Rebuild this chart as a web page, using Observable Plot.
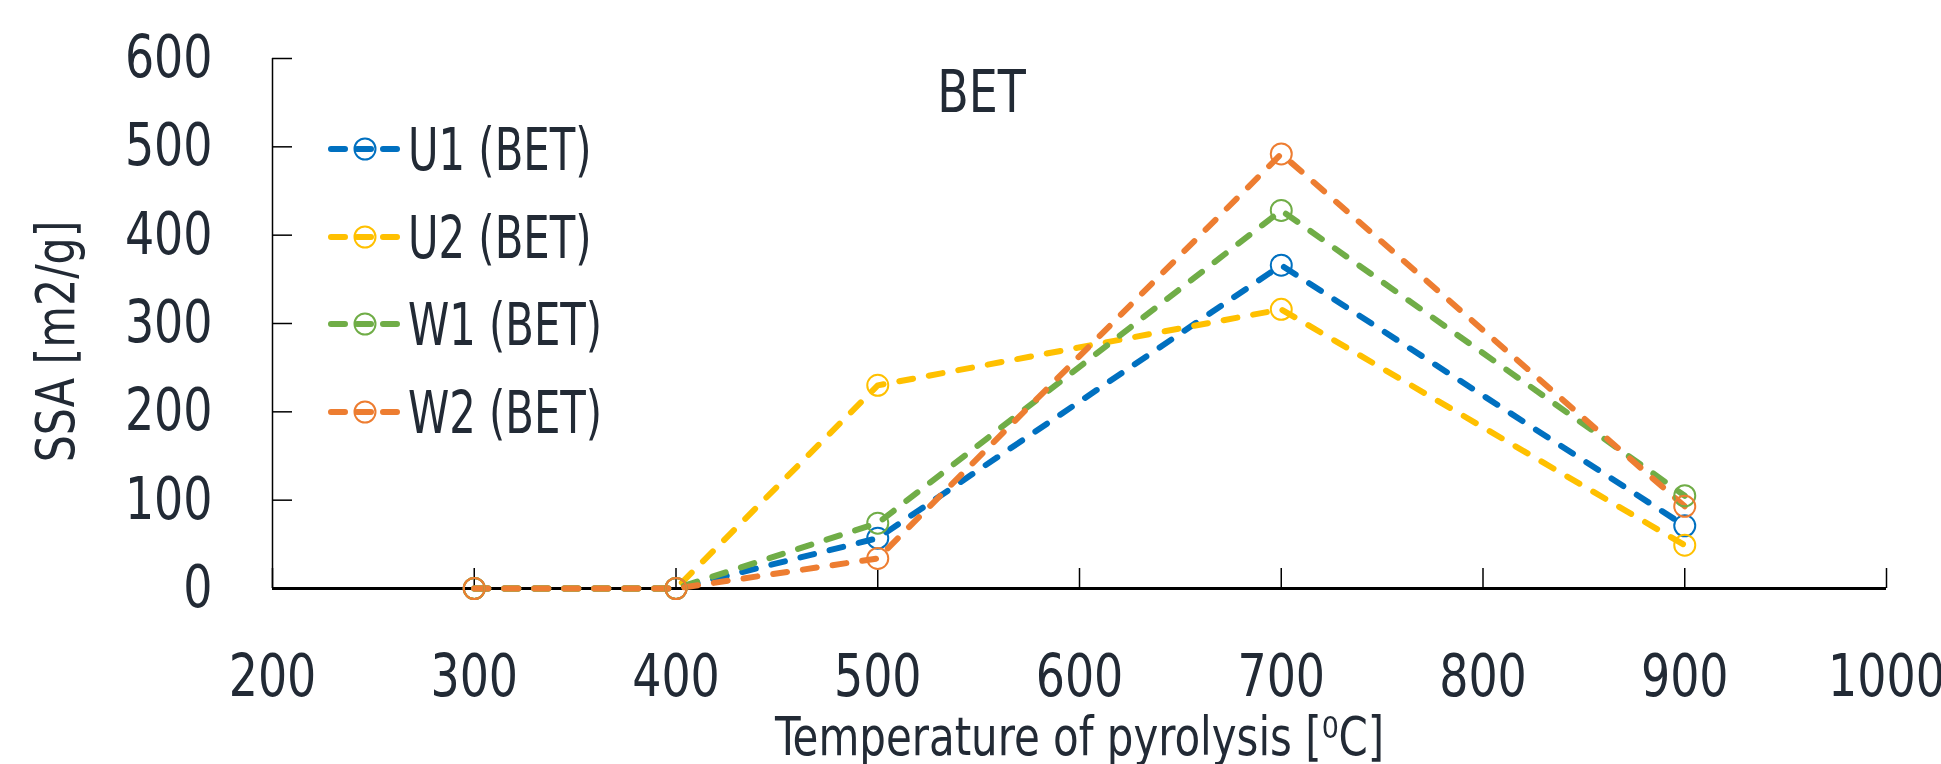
<!DOCTYPE html>
<html>
<head>
<meta charset="utf-8">
<script src="https://cdn.jsdelivr.net/npm/d3@7"></script>
<script src="https://cdn.jsdelivr.net/npm/@observablehq/plot@0.6"></script>
<style>
  html, body { margin: 0; padding: 0; background: #fff; }
  #wrap { position: relative; width: 1941px; height: 764px; font-family: "DejaVu Sans Condensed", "DejaVu Sans", sans-serif; color: #222a35; }
  #legend { position: absolute; left: 0; top: 0; }
</style>
</head>
<body>
<div id="wrap"><div id="chart"></div><svg id="legend" width="700" height="460"></svg></div>
<script>
const temperatures = [300, 400, 500, 700, 900];
const seriesNames = ["U1 (BET)", "U2 (BET)", "W1 (BET)", "W2 (BET)"];
const seriesColors = ["#0070C0", "#FFC000", "#70AD47", "#ED7D31"];
const U1 = [0, 0, 57, 366, 71];
const U2 = [0, 0, 230, 316, 49];
const W1 = [0, 0, 74, 428, 105];
const W2 = [0, 0, 34, 492, 93];
const xTicks = [200, 300, 400, 500, 600, 700, 800, 900, 1000];
const yTicks = [0, 100, 200, 300, 400, 500, 600];
const chartTitle = "BET";
const xTitle = "Temperature of pyrolysis [\u2070C]";
const yTitle = "SSA [m2/g]";

const values = [U1, U2, W1, W2];
const data = [];
seriesNames.forEach((s, i) => temperatures.forEach((t, j) => data.push({series: s, t, v: values[i][j]})));

const ink = "#222a35";
const font = '"DejaVu Sans Condensed", "DejaVu Sans", sans-serif';

const plot = Plot.plot({
  width: 1941,
  height: 764,
  marginLeft: 272,
  marginRight: 55,
  marginTop: 58,
  marginBottom: 176,
  style: {fontFamily: font, color: ink, background: "#fff", overflow: "visible"},
  x: {domain: [200, 1000]},
  y: {domain: [0, 600]},
  color: {domain: seriesNames, range: seriesColors},
  marks: [
    Plot.ruleX([200], {y1: 0, y2: 600, stroke: "#000", strokeWidth: 1.5}),
    Plot.ruleY([0], {x1: 200, x2: 1000, stroke: "#000", strokeWidth: 3}),
    Plot.axisX(xTicks, {tickSize: -20, text: null, stroke: "#000", strokeWidth: 1.5, label: null}),
    Plot.axisX(xTicks, {tickSize: 0, tickPadding: 66, fontSize: 58, fill: ink, label: null, tickFormat: d => String(d)}),
    Plot.axisY(yTicks, {tickSize: -20, text: null, stroke: "#000", strokeWidth: 1.5, label: null}),
    Plot.axisY(yTicks, {tickSize: 0, tickPadding: 60, fontSize: 58, fill: ink, label: null, tickFormat: d => String(d)}),
    Plot.text([xTitle], {frameAnchor: "bottom", lineAnchor: "middle", dy: 150, fontSize: 53, fill: ink}),
    Plot.text([yTitle], {frameAnchor: "left", textAnchor: "middle", lineAnchor: "middle", dx: -216, dy: 18, rotate: -90, fontSize: 54, fill: ink}),
    Plot.text([chartTitle], {frameAnchor: "top", lineAnchor: "middle", dx: -98, dy: 35, fontSize: 58, fill: ink}),
    Plot.line(data, {x: "t", y: "v", z: "series", stroke: "series", strokeWidth: 6, strokeDasharray: "14,16", strokeLinecap: "round"}),
    Plot.dot(data, {x: "t", y: "v", stroke: "series", r: 10.5, fill: "none", strokeWidth: 2})
  ]
});
// narrow the glyphs to approximate the reference's condensed typeface
d3.select(plot).selectAll("text").each(function() {
  const t = this.getAttribute("transform") || "";
  this.setAttribute("transform", (t + " scale(0.88,1)").trim());
});
document.getElementById("chart").appendChild(plot);

// legend
const lg = d3.select("#legend");
const rowY = [149, 237, 324, 412];
seriesNames.forEach((s, i) => {
  const g = lg.append("g").attr("transform", `translate(0,${rowY[i]})`);
  g.append("line").attr("x1", 331).attr("x2", 399).attr("y1", 0).attr("y2", 0)
    .attr("stroke", seriesColors[i]).attr("stroke-width", 6).attr("stroke-linecap", "round")
    .attr("stroke-dasharray", "14,12,14,12,14");
  g.append("circle").attr("cx", 365).attr("cy", 0).attr("r", 10.5)
    .attr("fill", "none").attr("stroke", seriesColors[i]).attr("stroke-width", 2);
  g.append("text").attr("transform", "translate(408,0) scale(0.8,1)").attr("dy", "0.36em")
    .attr("font-size", 58).attr("fill", ink).attr("font-family", font).text(s);
});
</script>
</body>
</html>
